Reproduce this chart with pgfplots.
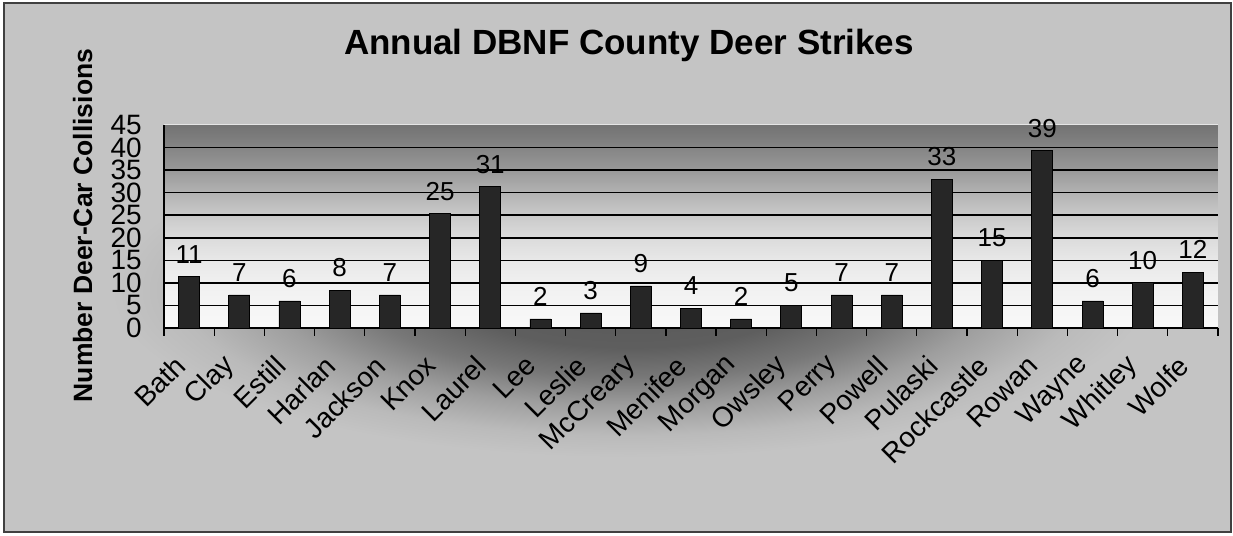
\documentclass[border=0pt]{standalone}
\usepackage{pgfplots}
\pgfplotsset{compat=1.18}
\usepackage{fontspec}
\setmainfont{Liberation Sans}

\pgfdeclareverticalshading{plotbg}{100bp}{rgb(0bp)=(.975,.975,.975); rgb(25bp)=(.975,.975,.975); rgb(30.56bp)=(.96,.96,.96); rgb(36.11bp)=(.94,.94,.94); rgb(41.67bp)=(.91,.91,.91); rgb(47.22bp)=(.86,.86,.86); rgb(52.78bp)=(.79,.79,.79); rgb(58.33bp)=(.70,.70,.70); rgb(63.89bp)=(.60,.60,.60); rgb(69.44bp)=(.52,.52,.52); rgb(75bp)=(.45,.45,.45); rgb(100bp)=(.45,.45,.45)}

\pgfdeclareradialshading{bgrad}{\pgfpoint{0bp}{0bp}}{rgb(0bp)=(.34,.34,.34); rgb(5bp)=(.37,.37,.37); rgb(7.5bp)=(.47,.47,.47); rgb(10bp)=(.62,.62,.62); rgb(12.5bp)=(.73,.73,.73); rgb(14.5bp)=(.77,.77,.77); rgb(50bp)=(.77,.77,.77)}

\begin{document}
\begin{tikzpicture}[x=1pt,y=1pt]
\useasboundingbox (0,0) rectangle (1233,535);
\fill[white] (0,0) rectangle (1233,535);
\begin{scope}
\clip (4,3) rectangle (1231,532);
\shade[shading=bgrad] (-270,-45) rectangle (1530,535);
\end{scope}
\draw[line width=1.5pt, black!75] (4,3) rectangle (1231,532);

\node[anchor=base, font=\fontsize{35}{40}\selectfont\bfseries] at (629,480.4) {Annual DBNF County Deer Strikes};
\node[rotate=90, anchor=base, font=\fontsize{26.5}{30}\selectfont\bfseries] at (92,309.5) {Number Deer-Car Collisions};

\begin{axis}[
  at={(164pt,207pt)}, anchor=south west,
  scale only axis, width=1054pt, height=203pt,
  /pgf/number format/assume math mode=true,
  xmin=-0.5, xmax=20.5, ymin=0, ymax=45,
  axis x line*=bottom, axis y line*=left,
  axis line style={line width=1.5pt, black, -},
  axis background/.style={shade, shading=plotbg},
  ybar, bar width=21pt,
  xtick={0,...,20},
  xticklabels={Bath,Clay,Estill,Harlan,Jackson,Knox,Laurel,Lee,Leslie,McCreary,Menifee,Morgan,Owsley,Perry,Powell,Pulaski,Rockcastle,Rowan,Wayne,Whitley,Wolfe},
  minor xtick={-0.5,0.5,...,20.5},
  major tick length=0pt, minor tick length=8pt,
  tick align=outside,
  tick style={black, line width=1.2pt},
  ytick={0,5,...,45},
  extra y ticks={5,10,...,40},
  extra y tick labels={},
  extra y tick style={grid=major},
  major grid style={black, line width=1.5pt},
  yticklabel style={font=\fontsize{28}{30}\selectfont, anchor=east, inner sep=0pt, xshift=-22pt},
  xticklabel style={font=\fontsize{28}{30}\selectfont, inner sep=0pt, anchor=east, xshift=-9pt, yshift=-33pt, rotate=45},
  nodes near coords={\pgfmathprintnumber[fixed,precision=0]{\pgfplotspointmeta}},
  nodes near coords style={font=\fontsize{26}{28}\selectfont, anchor=base, yshift=13.5pt, inner sep=0pt, black},
]
\draw[white!80!gray, line width=1pt] (axis cs:-0.5,45) -- (axis cs:20.5,45);
\addplot[fill=black!85, draw=black, line width=0.8pt, bar shift=0pt] coordinates {
(0,11.33) (1,7.33) (2,6) (3,8.33) (4,7.33) (5,25.33) (6,31.33) (7,2) (8,3.33) (9,9.33) (10,4.33)
(11,2) (12,5) (13,7.33) (14,7.33) (15,33) (16,15) (17,39.33) (18,6) (19,10) (20,12.33)};
\end{axis}
\end{tikzpicture}
\end{document}
